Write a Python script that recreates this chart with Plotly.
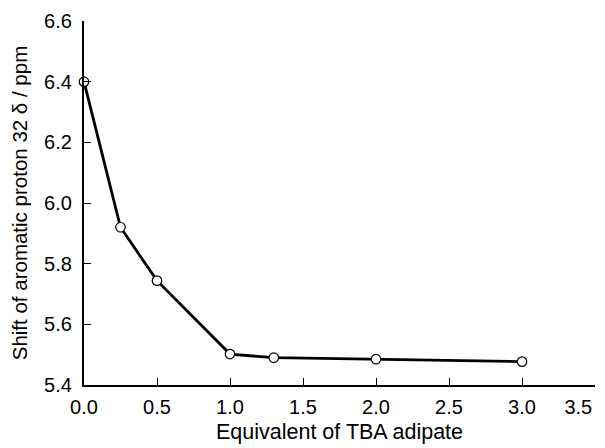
import plotly.graph_objects as go

equiv = [0.0, 0.25, 0.5, 1.0, 1.3, 2.0, 3.0]
shift = [6.40, 5.92, 5.744, 5.502, 5.49, 5.485, 5.477]

x_ticks = [0.0, 0.5, 1.0, 1.5, 2.0, 2.5, 3.0, 3.5]
y_ticks = [5.4, 5.6, 5.8, 6.0, 6.2, 6.4, 6.6]

fig = go.Figure()
fig.add_trace(go.Scatter(
    x=equiv, y=shift, mode="lines+markers",
    line=dict(color="black", width=2.8),
    marker=dict(symbol="circle", size=9.5, color="white",
                line=dict(color="black", width=1.2)),
    cliponaxis=False, showlegend=False,
))

# last x label sits at the page edge: pad it so it stays fully visible
x_text = [f"{v:.1f}" for v in x_ticks]
x_text[-1] = x_text[-1] + "\u00a0" * 6

font = "Liberation Sans, Arial, Helvetica, sans-serif"
# page body has an 8px default margin, so the figure is shrunk by 8px
fig.update_layout(
    width=597, height=440,
    margin=dict(l=76, r=10, t=13, b=63),
    paper_bgcolor="white", plot_bgcolor="white",
    font=dict(family=font, color="black", size=20),
    xaxis=dict(
        range=[0, 3.5], tickvals=x_ticks, ticktext=x_text,
        showgrid=False, zeroline=False, automargin=False,
        showline=True, linecolor="black", linewidth=2.2,
        ticks="inside", ticklen=7, tickwidth=1.2, tickcolor="black",
        tickfont=dict(size=20), ticklabelstandoff=3,
        ticklabeloverflow="allow",
        title=dict(text="Equivalent of TBA adipate", font=dict(size=21.5), standoff=7),
    ),
    yaxis=dict(
        range=[5.4, 6.6], tickvals=y_ticks,
        ticktext=[f"{v:.1f}" for v in y_ticks],
        showgrid=False, zeroline=False, automargin=False,
        showline=True, linecolor="black", linewidth=2.2,
        ticks="inside", ticklen=7, tickwidth=1.2, tickcolor="black",
        tickfont=dict(size=20), ticklabelstandoff=6,
        title=dict(text="Shift of aromatic proton 32 δ / ppm", font=dict(size=20.5), standoff=14),
    ),
)

fig.write_html("out.html")
